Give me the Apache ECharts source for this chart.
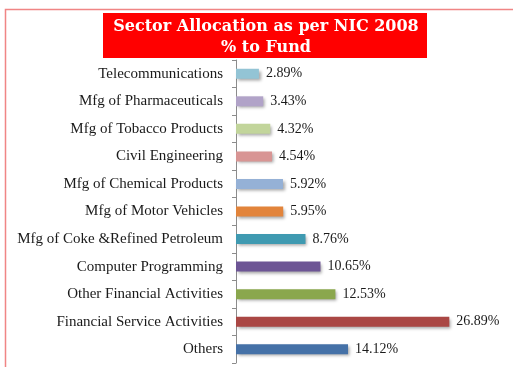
<!DOCTYPE html>
<html>
<head>
<meta charset="utf-8">
<script src="https://cdn.jsdelivr.net/npm/echarts@6/dist/echarts.min.js"></script>
<style>
  html, body { margin: 0; padding: 0; background: #fff; }
  #chart { width: 513px; height: 367px; }
</style>
</head>
<body>
<div id="chart"></div>
<script>
// Sector allocation (% of fund) by NIC 2008 classification
const categories = [
  'Telecommunications',
  'Mfg of Pharmaceuticals',
  'Mfg of Tobacco Products',
  'Civil Engineering',
  'Mfg of Chemical Products',
  'Mfg of Motor Vehicles',
  'Mfg of Coke &Refined Petroleum',
  'Computer Programming',
  'Other Financial Activities',
  'Financial Service Activities',
  'Others'
];
const values = [2.89, 3.43, 4.32, 4.54, 5.92, 5.95, 8.76, 10.65, 12.53, 26.89, 14.12];
const barColors = [
  '#93c4d5', '#b1a3c8', '#c2d59b', '#d89594', '#95b1d6', '#e2843b',
  '#3f9ab1', '#6d5595', '#8aa74d', '#aa4744', '#4571a7'
];
const titleLines = ['Sector Allocation as per NIC 2008', '% to Fund'];

const chart = echarts.init(document.getElementById('chart'), null, { renderer: 'canvas' });

chart.setOption({
  animation: false,
  backgroundColor: '#ffffff',
  graphic: [
    {
      type: 'rect',
      z: 0,
      shape: { x: 5.5, y: 9.5, width: 530, height: 380 },
      style: { fill: 'none', stroke: '#f08585', lineWidth: 1.5 }
    },
    {
      type: 'rect',
      z: 1,
      shape: { x: 103, y: 13, width: 324, height: 45 },
      style: { fill: '#ff0000' }
    },
    {
      type: 'text',
      z: 2,
      x: 266,
      y: 37,
      style: {
        text: titleLines.join('\n'),
        fill: '#ffffff',
        font: 'bold 16px "DejaVu Serif"',
        lineHeight: 21,
        align: 'center',
        verticalAlign: 'middle'
      }
    }
  ],
  grid: {
    left: 236,
    right: 39,
    top: 60,
    bottom: 4,
    containLabel: false
  },
  xAxis: {
    type: 'value',
    min: 0,
    max: 30,
    show: false
  },
  yAxis: {
    type: 'category',
    data: categories,
    inverse: true,
    axisLine: { show: true, lineStyle: { color: '#8c8c8c', width: 1 } },
    axisTick: { show: true, length: 4, lineStyle: { color: '#8c8c8c' } },
    axisLabel: {
      margin: 13,
      color: '#1a1a1a',
      fontFamily: '"Liberation Serif", "Times New Roman", serif',
      fontSize: 15
    }
  },
  series: [
    {
      type: 'bar',
      data: values.map((v, i) => ({ value: v, itemStyle: { color: barColors[i] } })),
      barWidth: 10,
      itemStyle: {
        shadowColor: 'rgba(0,0,0,0.35)',
        shadowBlur: 3,
        shadowOffsetX: 2,
        shadowOffsetY: 2
      },
      label: {
        show: true,
        position: 'right',
        distance: 7,
        color: '#1a1a1a',
        fontFamily: '"Liberation Serif", "Times New Roman", serif',
        fontSize: 14,
        formatter: p => p.value.toFixed(2) + '%'
      }
    }
  ]
});
</script>
</body>
</html>
